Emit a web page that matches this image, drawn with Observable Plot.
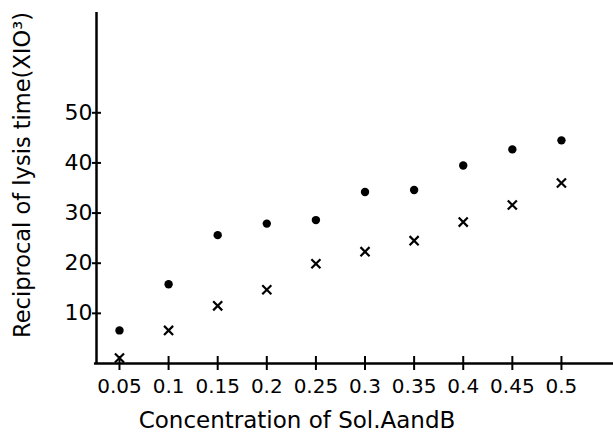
<!DOCTYPE html>
<html>
<head>
<meta charset="utf-8">
<script src="https://cdn.jsdelivr.net/npm/d3@7"></script>
<script src="https://cdn.jsdelivr.net/npm/@observablehq/plot@0.6"></script>
<style>
  html, body { margin: 0; padding: 0; background: #fff; }
</style>
</head>
<body>
<div id="chart"></div>
<script>
const concentrations = [0.05, 0.1, 0.15, 0.2, 0.25, 0.3, 0.35, 0.4, 0.45, 0.5];
const xTickLabels = ["0.05", "0.1", "0.15", "0.2", "0.25", "0.3", "0.35", "0.4", "0.45", "0.5"];
const dotValues = [6.6, 15.8, 25.6, 27.9, 28.6, 34.2, 34.6, 39.5, 42.7, 44.5];
const crossValues = [1.1, 6.6, 11.5, 14.7, 19.9, 22.3, 24.5, 28.2, 31.6, 36.0];
const yTicks = [10, 20, 30, 40, 50];
const xLabel = "Concentration of Sol.AandB";
const yLabel = "Reciprocal of lysis time(XIO³)";

const dots = concentrations.map((c, i) => ({c, v: dotValues[i]}));
const crosses = concentrations.map((c, i) => ({c, v: crossValues[i]}));

const font = "DejaVu Sans";
const xMin = 0.0266, xMax = 0.553;

const chart = Plot.plot({
  width: 613,
  height: 433,
  marginLeft: 96,
  marginRight: 0,
  marginTop: 12,
  marginBottom: 70,
  x: {domain: [xMin, xMax]},
  y: {domain: [0, 70]},
  style: {fontFamily: font, background: "#fff", color: "#000", overflow: "visible"},
  marks: [
    Plot.ruleY([0], {x1: 0.0245, x2: xMax, stroke: "#000", strokeWidth: 2.5}),
    Plot.ruleX([xMin], {y1: 0, y2: 70, stroke: "#000", strokeWidth: 2.5}),
    Plot.axisX(concentrations, {tickSize: 14, dy: -7, strokeWidth: 2, text: null, label: null}),
    Plot.axisX(concentrations, {tickSize: 0, tickPadding: 15, fontSize: 20,
      tickFormat: d => xTickLabels[concentrations.indexOf(d)], label: null}),
    Plot.axisY(yTicks, {tickSize: 9, dx: 5, strokeWidth: 2, text: null, label: null}),
    Plot.axisY(yTicks, {tickSize: 0, tickPadding: 4, fontSize: 22, label: null}),
    Plot.text([xLabel], {frameAnchor: "bottom", textAnchor: "middle", dx: -58, dy: 57, fontSize: 23, lineAnchor: "middle", fill: "#000"}),
    Plot.text([yLabel], {frameAnchor: "left", textAnchor: "middle", rotate: -90, dx: -74, dy: -13, fontSize: 22.5, lineAnchor: "middle", fill: "#000"}),
    Plot.dot(dots, {x: "c", y: "v", r: 4.2, fill: "#000", stroke: "none"}),
    Plot.dot(crosses, {x: "c", y: "v", symbol: "times", r: 4.2, stroke: "#000", strokeWidth: 2.2})
  ]
});
document.getElementById("chart").appendChild(chart);
</script>
</body>
</html>
